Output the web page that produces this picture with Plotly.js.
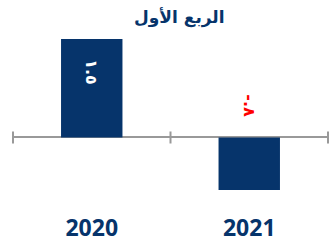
<!DOCTYPE html>
<html>
<head>
<meta charset="utf-8">
<script src="https://cdn.plot.ly/plotly-3.0.1.min.js"></script>
<style>html,body{margin:0;padding:0;background:#fff;}#chart{width:329px;height:242px;}</style>
</head>
<body>
<div id="chart"></div>
<script>
const categories = ["2020", "2021"];
const values = [1.5, -0.8];
const valueLabels = ["١.٥", "-.٨"];
const titleText = "الربع الأول";

const navy = "#06346B";
const n = categories.length;
const LRO = "\u202D", PDF = "\u202C";

const annotations = values.map((v, i) => ({
  x: i,
  y: v >= 0 ? v : 0,
  xref: "x", yref: "y",
  text: "<b>" + LRO + valueLabels[i] + PDF + "</b>",
  showarrow: false,
  textangle: 90,
  xanchor: "center",
  yanchor: "middle",
  yshift: v >= 0 ? -33 : 32,
  font: {family: "DejaVu Sans", size: 16, color: v >= 0 ? "#ffffff" : "#ff0000"}
}));

const shapes = [];
for (let k = 0; k <= n; k++) {
  shapes.push({
    type: "line", xref: "paper", yref: "y",
    x0: k / n, x1: k / n,
    ysizemode: "pixel", yanchor: 0, y0: -6, y1: 6,
    line: {color: "#999999", width: 2}
  });
}

Plotly.newPlot("chart", [{
  type: "bar",
  x: categories,
  y: values,
  width: 0.39,
  marker: {color: navy},
  hoverinfo: "none"
}], {
  width: 329, height: 242,
  margin: {l: 13, r: 1, t: 30, b: 42},
  paper_bgcolor: "#ffffff", plot_bgcolor: "#ffffff",
  showlegend: false,
  title: {text: "<b>" + titleText + "</b>", x: 0.545, xanchor: "center", y: 0.93, yanchor: "middle",
          font: {family: "DejaVu Sans", size: 17, color: navy}},
  xaxis: {type: "category", range: [-0.5, 1.5], showline: false, showgrid: false, ticks: "",
          tickfont: {family: "Open Sans", size: 23, color: navy, weight: "bold"},
          ticklabelstandoff: 12, fixedrange: true},
  yaxis: {range: [-0.952, 1.637], showgrid: false, showticklabels: false, ticks: "",
          zeroline: true, zerolinecolor: "#999999", zerolinewidth: 2, fixedrange: true},
  annotations: annotations,
  shapes: shapes
}, {displayModeBar: false, staticPlot: true});
</script>
</body>
</html>
